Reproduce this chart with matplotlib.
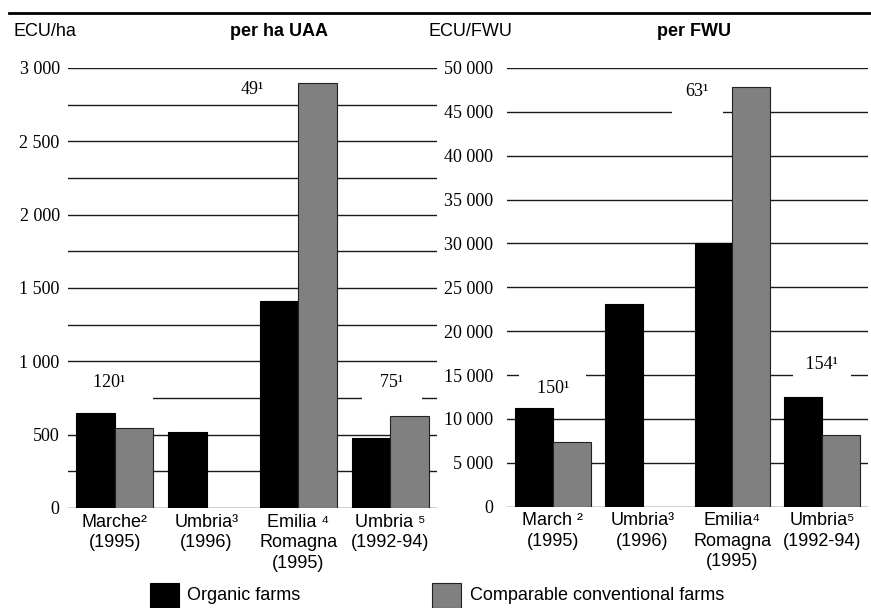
import matplotlib.pyplot as plt
from matplotlib.patches import Rectangle

# data
regions_ha = ["Marche²\n(1995)", "Umbria³\n(1996)", "Emilia ⁴\nRomagna\n(1995)", "Umbria ⁵\n(1992-94)"]
regions_fwu = ["March ²\n(1995)", "Umbria³\n(1996)", "Emilia⁴\nRomagna\n(1995)", "Umbria⁵\n(1992-94)"]
organic_ha = [650, 520, 1410, 475]
conventional_ha = [545, None, 2895, 630]
organic_fwu = [11200, 23100, 30100, 12500]
conventional_fwu = [7400, None, 47800, 8200]
samples_ha = ["120¹", None, "49¹", "75¹"]
samples_fwu = ["150¹", None, "63¹", "154¹"]

SERIF = ["Liberation Serif", "DejaVu Serif"]
SANS = ["Liberation Sans", "DejaVu Sans"]
GREY = "#808080"


def fmt(v):
    return f"{v:,}".replace(",", " ")


def draw_panel(ax, regions, organic, conventional, samples, ymax, major, minor,
               label_pos, boxes, tick_pad):
    w = 0.42
    for i in range(len(regions)):
        ax.bar(i - w / 2, organic[i], w, color="black", edgecolor="black", lw=0.8, zorder=2)
        if conventional[i] is not None:
            ax.bar(i + w / 2, conventional[i], w, color=GREY, edgecolor="#222222", lw=0.8, zorder=2)

    ax.set_xlim(-0.51, 3.51)
    ax.set_ylim(0, ymax)
    ax.set_yticks(range(0, ymax + 1, major))
    ax.set_yticklabels([fmt(v) for v in range(0, ymax + 1, major)],
                       family=SERIF, fontsize=13)
    ax.set_yticks(range(0, ymax + 1, minor), minor=True)
    ax.grid(True, axis="y", which="both", color="#1a1a1a", lw=1.0)
    ax.set_axisbelow(True)
    ax.tick_params(axis="y", which="both", length=0, pad=tick_pad)

    ax.set_xticks(range(len(regions)))
    ax.set_xticklabels(regions, family=SANS, fontsize=13, linespacing=1.27)
    ax.tick_params(axis="x", length=0, pad=4)
    for s in ax.spines.values():
        s.set_visible(False)

    # sample sizes; a white box masks the gridline behind some of them
    for i, s in enumerate(samples):
        if s is None:
            continue
        dx, y = label_pos[i]
        box = boxes[i]
        if box is None:
            ax.text(i + dx, y, s, family=SERIF, fontsize=13, ha="center", va="center", zorder=3)
        else:
            pad, spaces = box
            ax.text(i + dx, y, " " * spaces + s + " " * spaces, family=SERIF, fontsize=13,
                    ha="center", va="center", zorder=3,
                    bbox=dict(boxstyle=f"square,pad={pad}", fc="white", ec="none"))


fig = plt.figure(figsize=(8.71, 6.08), dpi=100)

ax1 = fig.add_axes([68 / 871, 100 / 608, 369 / 871, 440 / 608])
draw_panel(ax1, regions_ha, organic_ha, conventional_ha, samples_ha, 3000, 500, 250,
           [(-0.06, 853), None, (-0.5, 2850), (0.02, 853)],
           [(0.5, 4), None, None, (0.5, 2)], 6)

ax2 = fig.add_axes([507 / 871, 101.3 / 608, 361 / 871, 438.7 / 608])
draw_panel(ax2, regions_fwu, organic_fwu, conventional_fwu, samples_fwu, 50000, 5000, 5000,
           [(0.0, 13500), None, (-0.39, 47300), (0.0, 16150)],
           [(0.45, 2), None, (0.75, 0), (0.45, 1)], 10)

# header
fig.add_artist(plt.Line2D([9 / 871, 1], [1 - 13 / 608, 1 - 13 / 608], color="black", lw=2))
fig.text(13 / 871, 1 - 32 / 608, "ECU/ha", family=SANS, fontsize=13, va="center")
fig.text(279 / 871, 1 - 32 / 608, "per ha UAA", family=SANS, fontsize=13,
         weight="bold", ha="center", va="center")
fig.text(428 / 871, 1 - 32 / 608, "ECU/FWU", family=SANS, fontsize=13, va="center")
fig.text(694 / 871, 1 - 32 / 608, "per FWU", family=SANS, fontsize=13,
         weight="bold", ha="center", va="center")

# legend
fig.add_artist(Rectangle((150 / 871, 0), 29 / 871, 25 / 608, transform=fig.transFigure,
                         fc="black", ec="black", lw=0.8))
fig.text(187 / 871, 1 - 596 / 608, "Organic farms", family=SANS, fontsize=13, va="center")
fig.add_artist(Rectangle((432 / 871, 0), 29 / 871, 25 / 608, transform=fig.transFigure,
                         fc=GREY, ec="#222222", lw=0.8))
fig.text(470 / 871, 1 - 596 / 608, "Comparable conventional farms", family=SANS,
         fontsize=13, va="center")

fig.savefig("out.png", dpi=100)
